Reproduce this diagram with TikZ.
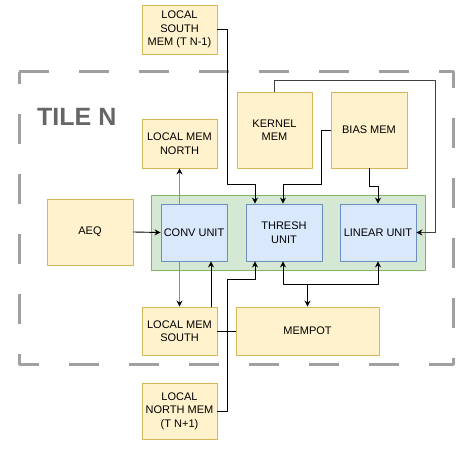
\documentclass[tikz,border=0pt]{standalone}
\usepackage{fontspec}
\setmainfont{Liberation Sans}
\usetikzlibrary{arrows.meta,positioning}
\definecolor{memFill}{HTML}{FFF2CC}
\definecolor{memLine}{HTML}{D6B656}
\definecolor{unitFill}{HTML}{DAE8FC}
\definecolor{unitLine}{HTML}{6C8EBF}
\definecolor{grpFill}{HTML}{D5E8D4}
\definecolor{grpLine}{HTML}{82B366}
\definecolor{tileLine}{HTML}{A0A0A0}
\definecolor{tileText}{HTML}{666666}
\definecolor{fadeLine}{HTML}{8C8C8C}
\begin{document}
\begin{tikzpicture}[
  x=1pt, y=-1pt,
  line join=round,
  every node/.style={font=\fontsize{11}{13.5}\selectfont, align=center, inner sep=1pt},
  conn/.style={draw=black, line width=0.9pt, -{Stealth[length=6pt, width=6pt, inset=2pt, color=black]}},
  link/.style={draw=black, line width=0.9pt}
]

% ---------- node styles ----------
\tikzset{
  memBox/.style={draw=memLine, fill=memFill, line width=0.9pt},
  unitBox/.style={draw=unitLine, fill=unitFill, line width=0.9pt},
  grpBox/.style={draw=grpLine, fill=grpFill, line width=0.9pt},
  tileLabel/.style={font=\fontsize{25}{30}\selectfont\bfseries, text=tileText, inner sep=0pt}
}

\useasboundingbox (0,0) rectangle (468,454);

% ---------- tile border ----------
\draw[tileLine, line width=3pt, dash pattern=on 30pt off 30pt]
  (19,72) -- (453,72) -- (453,364) -- (19,364) -- cycle;
\node[tileLabel, anchor=base west] (tile) at (37,126) {TILE N};

% ---------- unit group ----------
\node[grpBox, minimum width=274pt, minimum height=75pt] (group) at (288,232.5) {};
\node[unitBox, minimum width=66pt, minimum height=57pt] (conv) at (194,232.5) {CONV UNIT};
\node[unitBox, minimum width=76pt, minimum height=57pt] (thresh) at (284,232.5) {THRESH\\UNIT};
\node[unitBox, minimum width=76pt, minimum height=57pt] (linear) at (378,232.5) {LINEAR UNIT};

% ---------- memories ----------
\node[memBox, minimum width=75pt, minimum height=49pt] (southprev) at (179.5,29.5) {LOCAL\\SOUTH\\MEM (T N-1)};
\node[memBox, minimum width=75pt, minimum height=76pt] (kernel) at (274.5,130) {KERNEL\\MEM};
\node[memBox, minimum width=76pt, minimum height=76pt] (bias) at (369,130) {BIAS MEM};
\node[memBox, minimum width=75pt, minimum height=49pt] (northmem) at (179.5,143.5) {LOCAL MEM\\NORTH};
\node[memBox, minimum width=86pt, minimum height=66pt] (aeq) at (90,232) {AEQ};
\node[memBox, minimum width=75pt, minimum height=48pt] (southmem) at (179.5,331) {LOCAL MEM\\SOUTH};
\node[memBox, minimum width=143pt, minimum height=48pt] (mempot) at (307.5,331) {MEMPOT};
\node[memBox, minimum width=75pt, minimum height=56pt] (northnext) at (179.5,411) {LOCAL\\NORTH MEM\\(T N+1)};

% ---------- connectors ----------
\draw[conn] (southprev.east) -| ++(10,154.5) -| ([xshift=-29pt]thresh.north);
\draw[conn, draw=black!75] (kernel.north) |- ++(160.5,-11) |- (linear.east);
\draw[conn] (bias.west) -| ++(-9,54) -| ([xshift=-1pt]thresh.north);
\draw[conn] (bias.south) -- ++(0,18) -| (linear.north);
\draw[conn, draw=fadeLine] (conv.north -| northmem.south) -- (northmem.south);
\draw[conn] (aeq.east) -- (conv.west);
\draw[conn, draw=fadeLine] (conv.south -| southmem.north) -- (southmem.north);
\draw[conn] ([xshift=31.5pt]southmem.north) -- ([xshift=17pt]conv.south);
\draw[conn] (northnext.east) -| ++(10,-132) -| ([xshift=-29pt]thresh.south);
\draw[link] (southmem.east) -- (mempot.west);
\draw[conn, {Stealth[length=6pt, width=6pt, inset=2pt]}-{Stealth[length=6pt, width=6pt, inset=2pt]}]
  ([xshift=-1pt]thresh.south) -- ++(0,23) coordinate (tap) -| (linear.south);
\draw[conn] (tap -| mempot.north) -- (mempot.north);

\end{tikzpicture}
\end{document}
